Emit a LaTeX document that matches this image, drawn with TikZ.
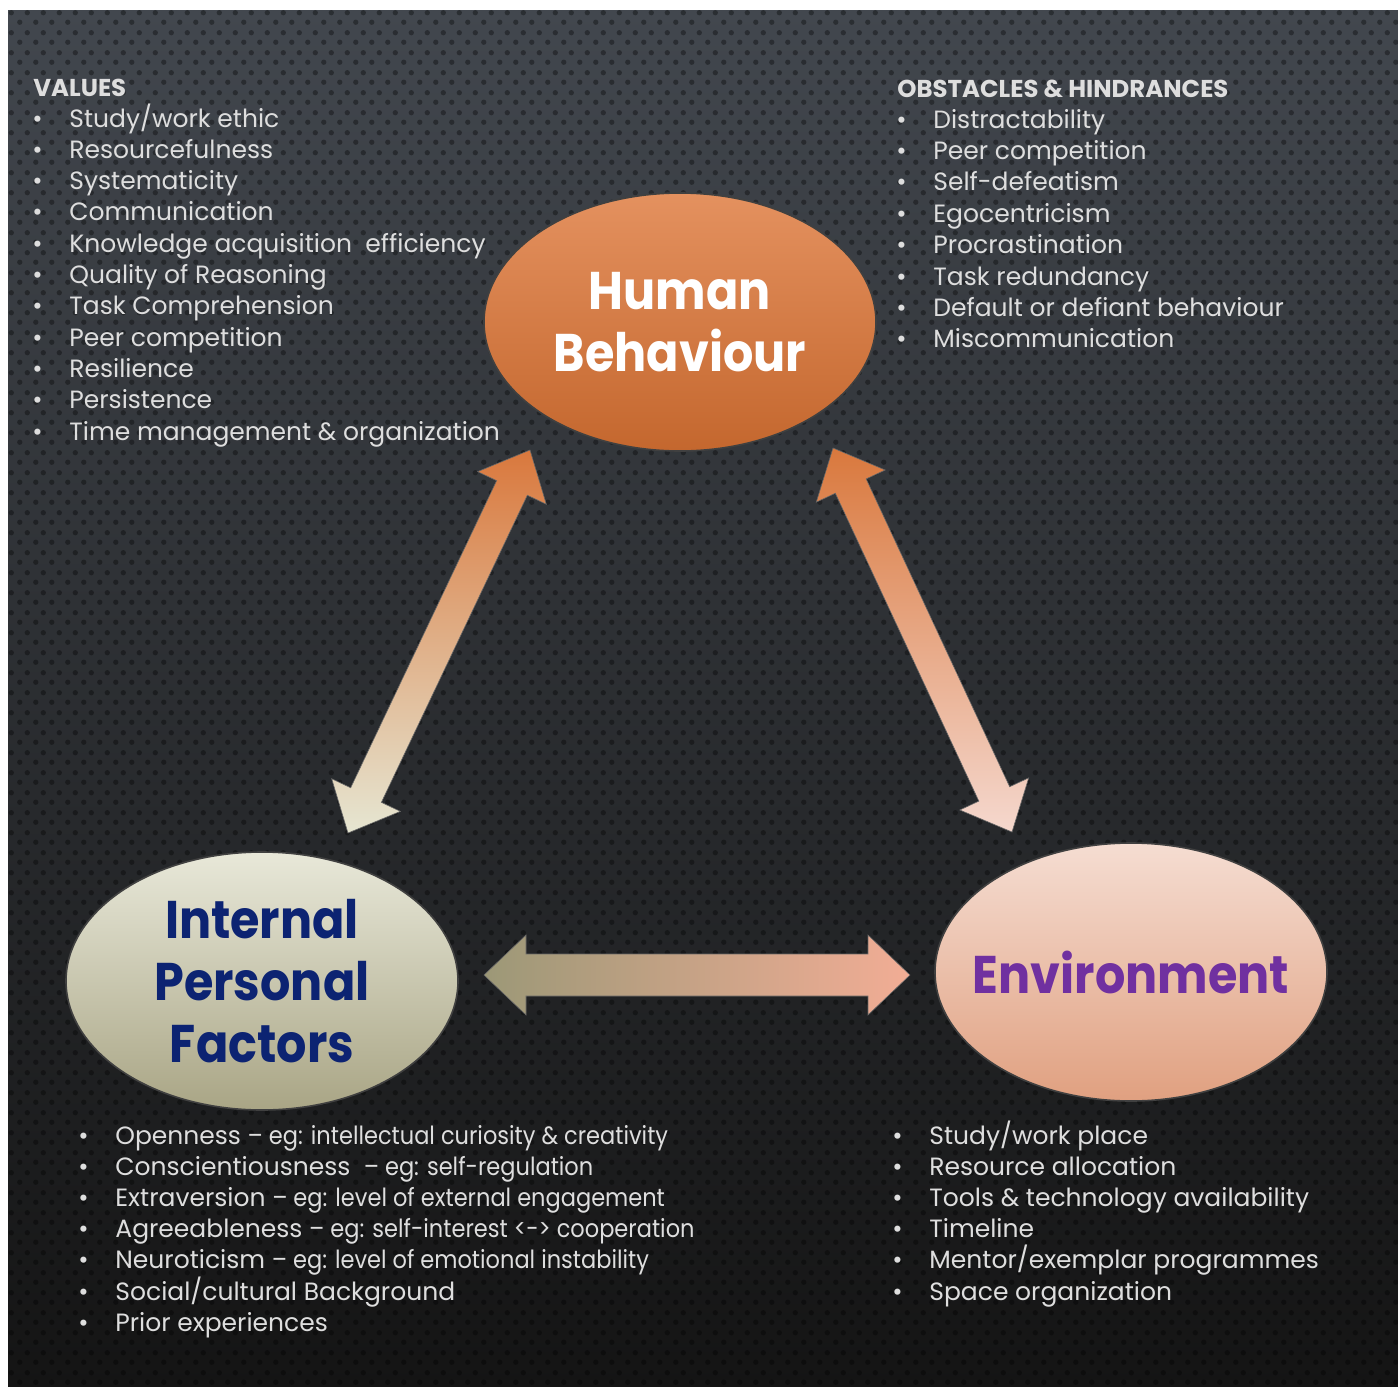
\documentclass[tikz,border=0pt]{standalone}
\usepackage{fontspec}
\setmainfont{Poppins}
\usetikzlibrary{calc,shapes.geometric,positioning,patterns}

\definecolor{bgtop}{HTML}{42474E}
\definecolor{bgmid}{HTML}{2C3036}
\definecolor{bgbot}{HTML}{141414}
\definecolor{listgray}{HTML}{DEDEDE}
\definecolor{hbtop}{HTML}{E4915F}
\definecolor{hbbot}{HTML}{C4672E}
\definecolor{ipftop}{HTML}{E8E8D9}
\definecolor{ipfbot}{HTML}{A9A585}
\definecolor{ipftext}{HTML}{0C2372}
\definecolor{envtop}{HTML}{F5DDD2}
\definecolor{envbot}{HTML}{E0A080}
\definecolor{envtext}{HTML}{7030A0}
\definecolor{arrorange}{HTML}{D9783D}
\definecolor{arrpale}{HTML}{E6E6D2}
\definecolor{arrpink}{HTML}{F5D8CE}
\definecolor{arrkhaki}{HTML}{9C9877}
\definecolor{arrpeach}{HTML}{F2AD95}

% perforated background texture
\pgfdeclarepatternformonly{perfdots}{\pgfqpoint{0pt}{0pt}}{\pgfqpoint{8pt}{10pt}}{\pgfqpoint{8pt}{10pt}}{%
  \pgfpathcircle{\pgfqpoint{2pt}{2.5pt}}{1.4pt}
  \pgfpathcircle{\pgfqpoint{6pt}{7.5pt}}{1.4pt}
  \pgfusepath{fill}}

% bullet in front of a list line
\newcommand{\bl}{\llap{\makebox[32pt][c]{\textbullet}}}
% narrower example part of a line
\newcommand{\eg}[1]{{\addfontfeature{FakeStretch=0.9}#1}}

% double block arrow: start, end, head length, half shaft, half head, options
\newcommand{\dblarrow}[6]{
  \shade[#6] (#1)
    -- ($(#1)!#3!(#2)!#5!90:(#2)$) -- ($(#1)!#3!(#2)!#4!90:(#2)$)
    -- ($(#2)!#3!(#1)!#4!-90:(#1)$) -- ($(#2)!#3!(#1)!#5!-90:(#1)$)
    -- (#2)
    -- ($(#2)!#3!(#1)!#5!90:(#1)$) -- ($(#2)!#3!(#1)!#4!90:(#1)$)
    -- ($(#1)!#3!(#2)!#4!-90:(#2)$) -- ($(#1)!#3!(#2)!#5!-90:(#2)$)
    -- cycle;
}

\begin{document}
\begin{tikzpicture}[x=0.5pt,y=-0.5pt]

% --- STYLES ---
\tikzset{
  factor/.style={ellipse, draw=black!75, line width=0.8pt, inner sep=-20pt,
                 minimum width=196pt, minimum height=129pt, align=center,
                 font=\fontsize{26.5}{31}\selectfont\bfseries\addfontfeature{FakeStretch=0.9}},
  listhead/.style={anchor=base west, inner sep=0pt, text=listgray,
                   font=\fontsize{12.2}{14}\selectfont\bfseries},
  listitem/.style={anchor=base west, inner sep=0pt, text=listgray,
                   font=\fontsize{12.5}{14}\selectfont},
  link/.style={draw=black!60, line width=0.3pt},
}

% ================= BACKGROUND =================
\useasboundingbox (0,0) rectangle (1398,1387);
\fill[white] (0,0) rectangle (1398,1387);
\shade[top color=bgtop, middle color=bgmid, bottom color=bgbot] (8,10) rectangle (1398,1387);
\fill[pattern=perfdots, pattern color=black, fill opacity=0.35] (8,10) rectangle (1398,1387);

% ================= FACTORS =================
\node[factor, top color=hbtop, bottom color=hbbot, text=white]
      (hb) at (680,322) {Human\\Behaviour};
\node[factor, top color=ipftop, bottom color=ipfbot, text=ipftext]
      (ipf) at (262,981) {Internal\\Personal\\Factors};
\node[factor, top color=envtop, bottom color=envbot, text=envtext]
      (env) at (1131,972) {Environment};

% ================= ARROW TIPS =================
\coordinate (hbL)  at (530,450);
\coordinate (hbR)  at (833,448);
\coordinate (ipfT) at (348,833);
\coordinate (ipfR) at (484,975);
\coordinate (envT) at (1012,832);
\coordinate (envL) at (910,975);

% ================= ARROWS =================
\dblarrow{ipfT}{hbL}{21pt}{8.5pt}{19pt}{link, top color=arrorange, bottom color=arrpale}
\dblarrow{hbR}{envT}{21pt}{8.5pt}{19pt}{link, top color=arrorange, bottom color=arrpink}
\dblarrow{ipfR}{envL}{21pt}{10.5pt}{20pt}{link, left color=arrkhaki, right color=arrpeach}

% ================= VALUES =================
\node[listhead] (valhead) at (33,96) {VALUES};
\foreach \itm [count=\i] in {Study/work ethic, Resourcefulness, Systematicity,
    Communication, Knowledge acquisition \ efficiency, Quality of Reasoning,
    Task Comprehension, Peer competition, Resilience, Persistence,
    Time management \& organization} {
  \node[listitem] (val\i) at (69,{127+31.3*(\i-1)}) {\bl\itm};
}

% ================= OBSTACLES =================
\node[listhead] (obshead) at (897,97) {OBSTACLES \& HINDRANCES};
\foreach \itm [count=\i] in {Distractability, Peer competition, Self-defeatism,
    Egocentricism, Procrastination, Task redundancy,
    Default or defiant behaviour, Miscommunication} {
  \node[listitem] (obs\i) at (933,{128+31.4*(\i-1)}) {\bl\itm};
}

% ================= PERSONAL FACTORS LIST =================
\foreach \itm [count=\i] in {Openness \eg{– eg: intellectual curiosity \& creativity},
    Conscientiousness \ \eg{– eg: self-regulation},
    Extraversion \eg{– eg: level of external engagement},
    Agreeableness \eg{– eg: self-interest <-> cooperation},
    Neuroticism \eg{– eg: level of emotional instability},
    Social/cultural Background, Prior experiences} {
  \node[listitem] (per\i) at (115,{1144+31.2*(\i-1)}) {\bl\itm};
}

% ================= ENVIRONMENT LIST =================
\foreach \itm [count=\i] in {Study/work place, Resource allocation,
    Tools \& technology availability, Timeline,
    Mentor/exemplar programmes, Space organization} {
  \node[listitem] (envl\i) at (929,{1144+31.2*(\i-1)}) {\bl\itm};
}

\end{tikzpicture}
\end{document}
